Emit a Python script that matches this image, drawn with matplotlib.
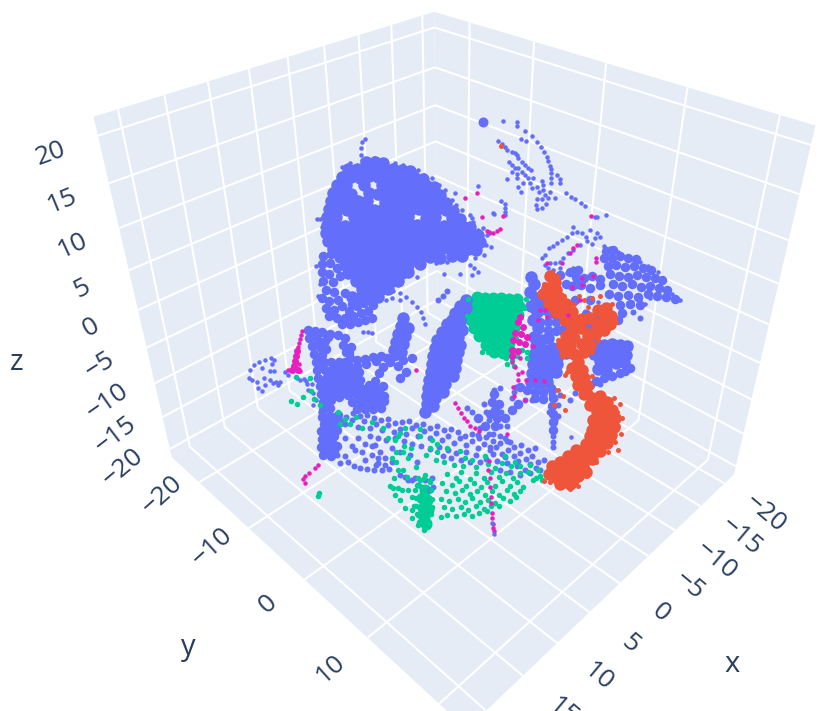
import numpy as np
import matplotlib
matplotlib.use("Agg")
import matplotlib.pyplot as plt

plt.rcParams['font.family'] = ['Open Sans', 'DejaVu Sans']

# axis ranges and ticks
x_range = [-22.0, 22.5]
y_range = [-26.0, 23.5]
z_range = [-21.3, 21.9]
x_ticks = [-20, -15, -10, -5, 0, 5, 10, 15, 20]
y_ticks = [-20, -10, 0, 10, 20]
z_ticks = [-20, -15, -10, -5, 0, 5, 10, 15, 20]

# box corners as seen in the picture: (x, y, z) -> (u, v)
box_xyz = [(22.5, -26, 21.9), (-22, -26, 21.9), (-22, 23.5, 21.9), (22.5, -26, -21.3),
           (-22, -26, -21.3), (-22, 23.5, -21.3), (22.5, 23.5, -21.3)]
box_uv = [(93, 117), (435, 12), (815, 125), (172, 457), (437, 307), (734, 475), (467, 729)]

blue_core = [
(366,162),(375,162),(383,163),
(348,169),(357,169),(366,170),(375,169),(384,170),(393,169),(402,170),(410,171),
(342,177),(351,177),(360,178),(369,176),(378,177),(387,178),(396,177),(405,178),(414,177),(423,179),
(337,185),(346,185),(364,185),(382,185),(391,186),(400,185),(409,186),(418,185),(427,186),(434,187),
(333,193),(342,193),(351,194),(369,193),(378,194),(387,193),(396,194),(405,193),(414,194),(423,193),(432,194),(440,195),
(331,201),(340,201),(349,202),(358,201),(367,201),(385,202),(394,201),(403,202),(412,201),(421,202),(430,201),(439,202),(446,203),
(329,209),(338,209),(347,210),(356,209),(365,209),(374,210),(383,209),(392,210),(401,209),(410,210),(419,209),(428,210),(437,209),(446,210),(453,211),
(327,217),(336,217),(354,217),(363,218),(372,217),(381,218),(390,217),(399,218),(408,217),(426,218),(435,217),(452,218),(460,219),
(327,225),(336,225),(345,226),(354,225),(363,225),(372,226),(381,225),(390,226),(399,225),(408,226),(417,225),(426,226),(435,225),(444,226),(453,225),(462,226),(470,227),
(326,233),(335,233),(344,234),(353,233),(362,233),(371,234),(380,233),(389,234),(398,233),(407,234),(416,233),(425,234),(434,233),(443,234),(452,233),(461,234),(470,233),(478,235),
(328,241),(337,241),(346,241),(355,242),(364,241),(373,241),(382,242),(391,241),(400,241),(409,242),(418,241),(427,241),(436,242),(445,241),(454,241),(463,242),(472,241),(480,242),
(333,249),(342,249),(351,250),(360,249),(369,249),(378,250),(387,249),(396,249),(405,250),(414,249),(423,249),(432,250),(441,249),(450,249),(459,250),(468,249),(476,250),
(340,257),(349,257),(358,258),(367,257),(376,257),(385,258),(394,257),(403,257),(412,258),(421,257),(430,257),(440,258),(452,256),(462,256),
(345,265),(354,265),(363,265),(372,266),(381,265),(390,265),(399,266),(408,265),(420,264),
(348,273),(357,273),(366,274),(375,273),(384,273),(393,274),(402,273),(408,272),
(356,281),(365,281),(374,282),(383,281),(392,281),(398,281),
(362,289),(371,289),(380,290),(388,289),
(352,297),(361,297),(370,297),(378,297),
# central leaf
(466,300),(460,306),(466,308),(455,313),(462,315),(452,320),(460,322),(447,324),(455,328),(462,330),
(442,332),(450,335),(458,337),(437,340),(445,342),(453,344),(460,345),(435,348),(443,350),(451,352),(458,352),
(433,356),(441,358),(449,360),(456,360),(432,364),(440,366),(448,368),(455,368),(431,372),(439,374),(447,376),(453,376),
(429,380),(437,382),(445,384),(428,388),(436,390),(443,392),(427,396),(435,398),(427,404),(433,406),(425,412),
# left thin leaf
(403,318),(401,326),(408,328),(398,334),(405,336),(396,342),(403,344),(394,350),(401,352),
# right cluster columns
(531,277),(534,284),(530,292),(536,298),(531,306),(537,312),(533,320),(538,328),(534,337),(541,340),(548,338),
(536,346),(544,350),(552,348),(560,347),(534,354),(542,358),(550,357),(558,356),(566,353),
(533,364),(541,366),(549,366),(557,364),(532,373),(540,375),(548,374),(556,372),(531,382),(539,383),(547,382),
(596,346),(604,345),(612,344),(620,345),(627,346),(594,354),(602,353),(610,353),(618,354),(626,355),
(600,361),(608,362),(616,363),(624,362),(598,369),(606,370),
]
blue_fill = [
(323,256),(331,254),(322,264),(330,263),(337,268),(322,272),(329,274),(323,281),(333,282),(340,276),
(326,290),(334,292),(322,298),(329,301),(338,300),(345,293),(352,304),(326,308),(334,310),(342,306),
(349,311),(357,306),(364,303),(370,300),(329,316),(337,318),(345,318),(353,316),(361,313),(368,311),
(373,305),(342,324),(350,324),(358,322),(365,320),(372,318),
(308,330),(315,331),(322,332),(330,334),(338,335),(345,338),(309,338),(317,339),(325,341),(343,345),
(351,347),(312,346),(320,347),(346,352),(314,354),(322,355),(350,358),(316,362),(324,362),(345,362),
(357,360),(365,359),(373,357),(381,356),(317,370),(325,370),(333,368),(341,367),(349,366),(357,366),
(366,364),(376,361),(387,358),(395,356),(318,378),(327,377),(335,375),(343,374),(351,373),(359,372),
(383,367),(390,362),(320,386),(328,385),(336,383),(344,381),(352,379),(360,380),(379,373),(375,381),
(321,394),(329,392),(337,390),(345,388),(353,386),(361,388),(369,385),(376,388),(383,386),(323,402),
(331,400),(339,397),(348,395),(356,394),(364,393),(372,394),(380,394),(323,410),(330,408),(352,402),
(360,401),(368,401),(376,401),(384,401),(357,409),(365,409),(373,409),(381,408),(322,417),(330,416),
(338,415),(324,424),(332,424),(340,422),(321,431),(329,432),(337,430),(322,439),(330,440),(321,447),
(329,448),(337,446),(323,455),(331,456),
(313,334),(328,337),(319,343),(326,349),(349,353),(320,358),(331,362),(339,362),(321,366),(330,373),
(338,371),(347,370),(355,369),(323,382),(332,380),(340,378),(348,377),(356,376),(325,390),(333,388),
(341,386),(349,384),(358,384),(366,389),(372,390),(327,397),(335,394),(343,393),(351,391),(360,397),
(368,397),(376,397),(384,396),(361,405),(369,405),(377,405),(327,404),(326,420),(335,420),(325,428),
(333,428),(326,436),(334,436),(325,444),(333,444),(326,452),(334,452),
(398,366),(403,360),(406,372),(412,358),(400,378),
# right cluster
(606,251),(613,250),(604,258),(612,258),(620,256),(628,258),(636,259),(608,266),(616,265),(625,267),
(634,266),(643,268),(651,270),(576,277),(584,278),(592,276),(600,279),(610,274),(619,276),(628,277),
(637,275),(646,277),(655,278),(662,280),(572,286),(581,285),(590,288),(600,285),(613,284),(622,286),
(632,284),(641,287),(650,286),(659,288),(667,290),(609,294),(618,296),(628,295),(638,297),(648,294),
(657,296),(666,297),(675,299),(620,305),(630,304),(640,305),(622,313),(618,320),(590,300),(594,318),
(560,330),(570,326),(575,300),(556,316),(548,322),(544,310),(542,300),(551,308),(588,327),(625,371),
(541,305),(549,314),(556,322),(548,330),(540,322),(556,331),(564,328),(572,330),(580,326),(589,322),
(586,314),(596,320),(570,272),(578,270),(576,284),(590,340),(590,350),(566,284),(560,275),(596,336),
(520,387),(527,390),(535,392),(543,392),(551,388),(535,398),(543,399),
(590,385),(596,381),(604,378),(612,376),(620,373),(630,368),(552,390),(553,398),(552,406),(553,414),
(553,422),(553,430),(494,394),(492,402),(495,410),(497,418),(495,426),(490,414),(499,404),(485,426),
(505,418),(512,410),(518,404),(478,418),
]
blue_band = [
(345,424),(352,420),(358,427),(364,421),(370,428),(376,424),(382,430),(388,425),(394,432),(400,429),
(406,434),(412,428),(418,436),(424,431),(430,438),(436,433),(442,440),(448,436),(454,443),(460,438),
(466,445),(472,441),(478,448),(484,444),(490,450),(496,447),(502,454),(508,450),(514,456),(520,453),
(526,459),(532,456),(538,462),(544,460),(530,464),(518,461),(505,457),(493,454),(370,436),(378,438),
(386,440),(395,438),(404,441),(412,444),(421,446),(430,449),(439,447),(448,450),(456,453),(466,452),
(476,455),(486,459),(497,461),(507,463),(517,466),(525,470),(536,468),(355,450),(362,452),(372,446),
(378,458),(376,465),(410,455),(417,462),(425,480),(430,490),(415,478),(408,480),
(346,417),(353,413),(360,416),(367,415),(374,418),(381,420),(388,419),(395,423),(402,422),(409,421),
(416,425),(423,424),(430,428),(437,426),(444,430),(451,429),(458,432),(465,436),(472,434),(479,438),
(486,437),(493,441),(500,443),(507,441),(514,447),(521,445),(528,450),(535,448),(375,445),(380,452),
(385,458),(372,455),(378,463),(385,465),(392,462),(365,460),(348,462),(354,466),(360,468),(367,469),
(374,470),(382,470),(389,469),(345,456),(340,463),(337,455),(345,438),(352,446),(358,438),(365,444),
(400,475),(405,477),(412,480),(418,485),(432,478),(433,487),(392,448),(400,452),(480,462),(470,462),
(461,460),(451,458),(443,456),(500,470),(510,472),(520,475),(530,473),(540,470),(547,472),
(553,436),(553,442),(553,447),(525,400),(532,400),(505,438),(510,442),(490,447),
(478,435),(500,436),(484,404),(472,412),(467,408),(443,296),(447,291),(438,300),(516,387),(514,392),
(512,398),(500,388),(494,390),(600,384),(575,393),(570,400),(551,394),(558,416),(555,398),
(640,318),(633,312),(600,331),(585,312),(578,322),(544,396),(549,412),(558,405),(560,395),
(486,412),(489,420),(501,412),(480,428),(493,434),(489,434),(500,426),(507,426),
]
blue_dots = [
(362,142),(361,148),(361,155),(362,160),(365,139),(350,163),(342,167),(374,158),(385,160),(395,163),
(403,165),(412,168),(418,170),(424,175),(432,178),(439,185),(445,190),(455,193),(452,200),(456,205),
(462,210),(470,215),(473,222),(478,230),(487,235),(470,250),(486,245),(491,247),(484,255),(475,258),
(470,265),(465,252),(447,262),(436,263),(474,268),(472,275),(478,272),(444,274),(460,274),(417,277),
(317,219),(320,219),(322,227),(316,266),(320,284),(318,296),(386,300),(392,298),(400,300),
(393,291),(400,293),(406,297),(412,302),(417,307),(421,312),(423,318),(425,324),
# small cluster on the left
(250,370),(254,365),(259,362),(265,360),(271,358),(274,360),(272,364),(262,368),(270,371),(274,371),
(249,378),(252,380),(257,382),(258,388),(262,391),(265,385),(270,380),(273,383),(264,378),(276,382),
(278,385),(280,382),(285,372),(288,375),(293,370),(297,378),(300,380),(304,379),(307,384),(312,384),
(308,390),(313,393),(306,381),(316,400),(313,405),(320,412),(363,332),(368,332),(372,333),
# top right strokes
(503,121),(517,122),(517,126),(525,131),(532,136),(521,139),(526,141),(537,142),(541,147),(544,152),
(547,157),(548,161),(550,166),(551,169),(551,173),(551,178),(551,183),(550,192),(548,198),(546,204),
(542,208),(537,209),(536,205),(537,199),(542,199),(545,195),(543,190),(537,187),(539,192),(542,181),
(543,185),(555,198),(557,175),(560,179),(560,183),(498,141),(502,144),(505,147),(507,150),(512,152),
(515,153),(517,155),(518,158),(522,162),(525,165),(528,168),(531,170),(509,162),(512,165),(515,168),
(518,168),(522,172),(525,175),(528,178),(530,183),(532,188),(512,172),(517,174),(507,179),(517,178),
(523,183),(518,187),(521,192),(533,178),(566,193),(571,197),(575,199),(581,203),(585,206),(595,217),
(597,217),(606,215),(501,201),(505,204),(505,208),(505,212),(505,215),(494,214),(478,186),(483,228),
(490,233),(493,213),(472,218),
# arc over the right cluster
(542,258),(545,255),(549,248),(553,246),(557,243),(562,240),(567,237),(572,233),(577,232),(573,227),
(582,233),(586,237),(590,230),(597,233),(600,237),(595,238),(587,241),(580,245),(573,250),(568,253),
(563,258),(560,262),(555,263),(550,263),(545,265),(548,268),(553,270),(560,268),(567,273),(573,268),(575,277),
(592,244),(604,246),(610,248),(618,252),(640,262),(648,266),(658,272),(672,294),(678,300),(680,300),
(598,302),(640,300),(632,302),(650,298),(645,304),(556,420),(571,437),
]
green_core = [
(477,297),(485,298),(493,298),(501,298),(509,299),(517,299),(471,304),(479,305),(487,305),(495,306),
(503,306),(511,306),(519,306),(470,312),(478,313),(486,314),(494,314),(502,314),(510,315),(518,315),
(471,320),(479,321),(487,322),(495,322),(503,322),(511,322),(474,328),(482,329),(490,330),(498,330),
(506,330),(514,328),(479,336),(487,338),(495,338),(503,337),(510,335),(486,345),(494,346),(502,345),
(509,343),(494,352),(503,353),(511,352),(425,490),(422,498),(427,500),(423,508),(428,510),(424,518),
(426,524),
]
green_dots = [
(468,299),(526,299),(524,308),(467,316),(516,338),(482,352),(488,352),(506,358),(512,360),(517,356),
(522,350),(507,364),(514,366),(527,352),(527,358),(310,378),(311,391),(303,397),(314,399),(296,377),
(291,401),(297,404),(320,405),(338,412),(345,419),(340,424),(350,424),(356,417),(362,428),(372,422),
(383,428),(388,438),(395,440),(400,433),(420,436),(432,440),(437,444),(398,436),(405,428),(420,429),
(430,448),(437,452),(447,448),(460,451),(472,460),(465,458),(485,456),(495,468),(505,456),(515,462),
(530,465),(538,470),(528,472),(540,476),(548,475),(542,480),(533,480),(404,446),(396,452),(392,458),
(396,462),(408,458),(403,470),(407,477),(416,467),(394,478),(398,488),(390,486),(395,495),(400,500),
(408,490),(412,497),(405,508),(412,510),(418,515),(420,480),(425,475),(430,480),(417,485),(414,506),
(418,525),(424,530),(412,518),(318,496),(319,493),(536,478),
(447,474),(456,478),(461,472),(470,479),(476,473),(484,478),(491,472),(499,477),(506,473),(513,478),(520,473),
(442,483),(452,485),(459,481),(466,486),(474,483),(481,487),(487,482),(495,486),(502,481),(510,486),(517,482),(523,487),
(446,491),(455,493),(462,490),(470,494),(477,491),(485,495),(492,491),(499,495),(507,490),(514,494),(520,491),
(441,499),(449,501),(458,499),(465,502),(472,498),(480,502),(488,500),(495,503),(503,498),(510,501),(516,497),
(444,507),(452,509),(461,507),(468,510),(476,506),(484,509),(491,506),(499,506),
(447,515),(456,516),(464,514),(472,516),(479,513),(487,511),(441,517),
(403,452),(411,448),(426,455),(436,460),(444,462),(454,465),(463,466),(476,467),(488,464),(502,463),
(511,466),(520,466),(398,470),(402,490),(393,488),
(418,478),(424,478),(430,482),(420,486),(415,490),(431,490),(416,498),(432,499),(416,506),(432,507),(417,514),(431,514),(419,522),(429,522),
]
red_core = [
(550,276),(555,282),(547,288),(556,290),(543,294),(552,298),(560,298),(549,304),(558,305),(566,304),
(556,312),(564,312),(572,312),(565,320),(574,320),(582,319),(572,328),(581,328),(590,318),(598,310),
(606,308),(611,316),(604,318),(597,324),(610,324),(604,330),(596,333),(588,336),(566,336),(574,338),
(582,344),(562,344),(570,346),(590,345),(565,352),(574,354),(584,352),(578,362),(572,368),(582,370),
(576,376),(584,378),(578,385),(587,386),(584,394),(592,398),(600,396),(590,405),(599,404),(607,402),
(597,412),(605,412),(612,410),(600,420),(608,420),(615,418),(599,428),(607,428),(614,427),(596,436),
(604,436),(611,435),(592,444),(600,444),(607,443),(584,450),(592,452),(600,451),(576,456),(584,460),
(592,459),(567,464),(575,466),(583,466),(558,470),(566,472),(574,474),(549,474),(557,478),(565,479),
(573,480),(560,484),(593,420),(592,430),(590,436),(586,444),(552,466),(560,462),(568,456),(576,450),
(570,484),(578,476),(586,472),
]
red_dots = [
(544,284),(552,272),(558,276),(540,296),(564,296),(574,304),(584,300),(592,298),(600,296),(612,304),
(616,322),(598,340),(590,330),(562,356),(558,340),(592,352),(567,372),(592,376),(590,392),(614,398),
(620,404),(617,412),(622,418),(618,426),(621,434),(615,442),(618,450),(608,452),(596,462),(587,476),
(578,486),(570,489),(550,482),(544,481),(565,375),(558,390),(563,396),(554,405),(565,410),(501,146),
(570,322),(588,307),(579,296),
]
pink_fill = [
(297,351),(296,356),(295,361),(294,366),(292,370),(298,370),
(520,317),(518,322),(523,327),(515,333),(521,334),(527,337),(513,340),(519,342),(525,344),(512,350),(518,351),(512,356),
]
pink_dots = [
(302,331),(301,335),(300,339),(299,343),(298,347),(288,370),(299,364),(300,371),
(305,483),(303,479),(305,476),(309,473),(315,468),(318,465),
(477,193),(465,198),(482,217),(503,216),(500,229),(497,231),(493,233),(489,232),(487,231),(591,216),
(455,403),(458,408),(461,413),(464,418),(467,421),(470,426),(475,428),(479,431),(507,434),
(489,461),(488,470),(490,478),(490,487),(491,497),(491,503),(492,513),(492,518),(493,524),(493,528),(494,531),
(515,367),(518,374),(518,380),(513,387),(514,396),(522,372),(526,380),(512,362),(520,358),
(577,245),(573,248),(570,253),(596,258),(596,262),(582,278),(593,276),(572,287),(582,285),(562,263),(547,263),
(545,310),(547,317),(538,320),(540,310),(533,346),(535,380),(544,381),(525,400),(580,300),(568,315),(416,370),
]
pink_over = [(492,523),(494,534)]
big_dot = [(483,122)]


def cam_fit(xyz, uv):
    # plain DLT, gives the 3x4 camera of the picture
    A, b = [], []
    for (X, Y, Z), (u, v) in zip(xyz, uv):
        A.append([X, Y, Z, 1, 0, 0, 0, 0, -u*X, -u*Y, -u*Z])
        b.append(u)
        A.append([0, 0, 0, 0, X, Y, Z, 1, -v*X, -v*Y, -v*Z])
        b.append(v)
    p = np.linalg.lstsq(np.array(A, float), np.array(b, float), rcond=None)[0]
    return np.append(p, 1).reshape(3, 4)


P = cam_fit(box_xyz, box_uv)


def proj(X, Y, Z):
    q = P @ np.array([X, Y, Z, 1.0])
    return q[0]/q[2], q[1]/q[2]


fig = plt.figure(figsize=(8.31, 7.11), dpi=100)
ax = fig.add_axes([0, 0, 1, 1])
ax.set_xlim(0, 831)
ax.set_ylim(711, 0)
ax.axis("off")

x0, x1 = x_range
y0, y1 = y_range
z0, z1 = z_range
wall = "#E5ECF6"
for face in ([(x1, y0, z1), (x0, y0, z1), (x0, y0, z0), (x1, y0, z0)],
             [(x0, y0, z1), (x0, y1, z1), (x0, y1, z0), (x0, y0, z0)],
             [(x0, y0, z0), (x0, y1, z0), (x1, y1, z0), (x1, y0, z0)]):
    ax.fill(*zip(*[proj(*c) for c in face]), color=wall, lw=0, zorder=1)


def grid(a, b):
    pa, pb = proj(*a), proj(*b)
    ax.plot([pa[0], pb[0]], [pa[1], pb[1]], color="white", lw=1.5, zorder=2, solid_capstyle="butt")


for t in x_ticks:
    grid((t, y0, z0), (t, y0, z1))
    grid((t, y0, z0), (t, y1, z0))
for t in y_ticks:
    grid((x0, t, z0), (x0, t, z1))
    grid((x0, t, z0), (x1, t, z0))
for t in z_ticks:
    grid((x1, y0, t), (x0, y0, t))
    grid((x0, y0, t), (x0, y1, t))


def dots(pts, color, d, z):
    pts = np.array(pts)
    ax.scatter(pts[:, 0], pts[:, 1], s=(d*0.72)**2, c=color, linewidths=0, zorder=z)


dots(green_core, "#00CC96", 12, 3)
dots(blue_core, "#636EFA", 12.5, 4)
dots(blue_fill, "#636EFA", 9.5, 4)
dots(blue_band, "#636EFA", 6, 4)
dots(blue_dots, "#636EFA", 4.5, 4)
dots(big_dot, "#636EFA", 10, 4)
dots(green_dots, "#00CC96", 5.5, 4.5)
dots(red_core, "#EF553B", 12.5, 5)
dots(red_dots, "#EF553B", 5, 5)
dots(pink_fill, "#E81FC0", 7, 6)
dots(pink_dots, "#E81FC0", 4.5, 6)
dots(pink_over, "#636EFA", 4.5, 6)


def label(t):
    return str(t).replace("-", "\u2212")


ink = "#2a3f5f"
for t in z_ticks:
    u, v = proj(x1, y0, t)
    ax.text(u-47, v+18, label(t), fontsize=19, color=ink, rotation=20+(20-t)*0.5,
            ha="center", va="center", rotation_mode="anchor", zorder=7)
for t in x_ticks[:-1]:
    u, v = proj(t, y1, z0)
    ax.text(u+41, v+30+max(t, 0)*0.4, label(t), fontsize=19, color=ink, rotation=-40,
            ha="center", va="center", rotation_mode="anchor", zorder=7, clip_on=True)
for t in y_ticks[:-1]:
    u, v = proj(x1, t, z0)
    ax.text(u-37, v+25+t*0.6, label(t), fontsize=19, color=ink, rotation=42,
            ha="center", va="center", rotation_mode="anchor", zorder=7)
ax.text(732, 665, "x", fontsize=21, color=ink, ha="center", va="center", zorder=7)
ax.text(188, 648, "y", fontsize=21, color=ink, ha="center", va="center", zorder=7)
ax.text(17, 362, "z", fontsize=21, color=ink, ha="center", va="center", zorder=7)

fig.savefig("out.png", dpi=100)
